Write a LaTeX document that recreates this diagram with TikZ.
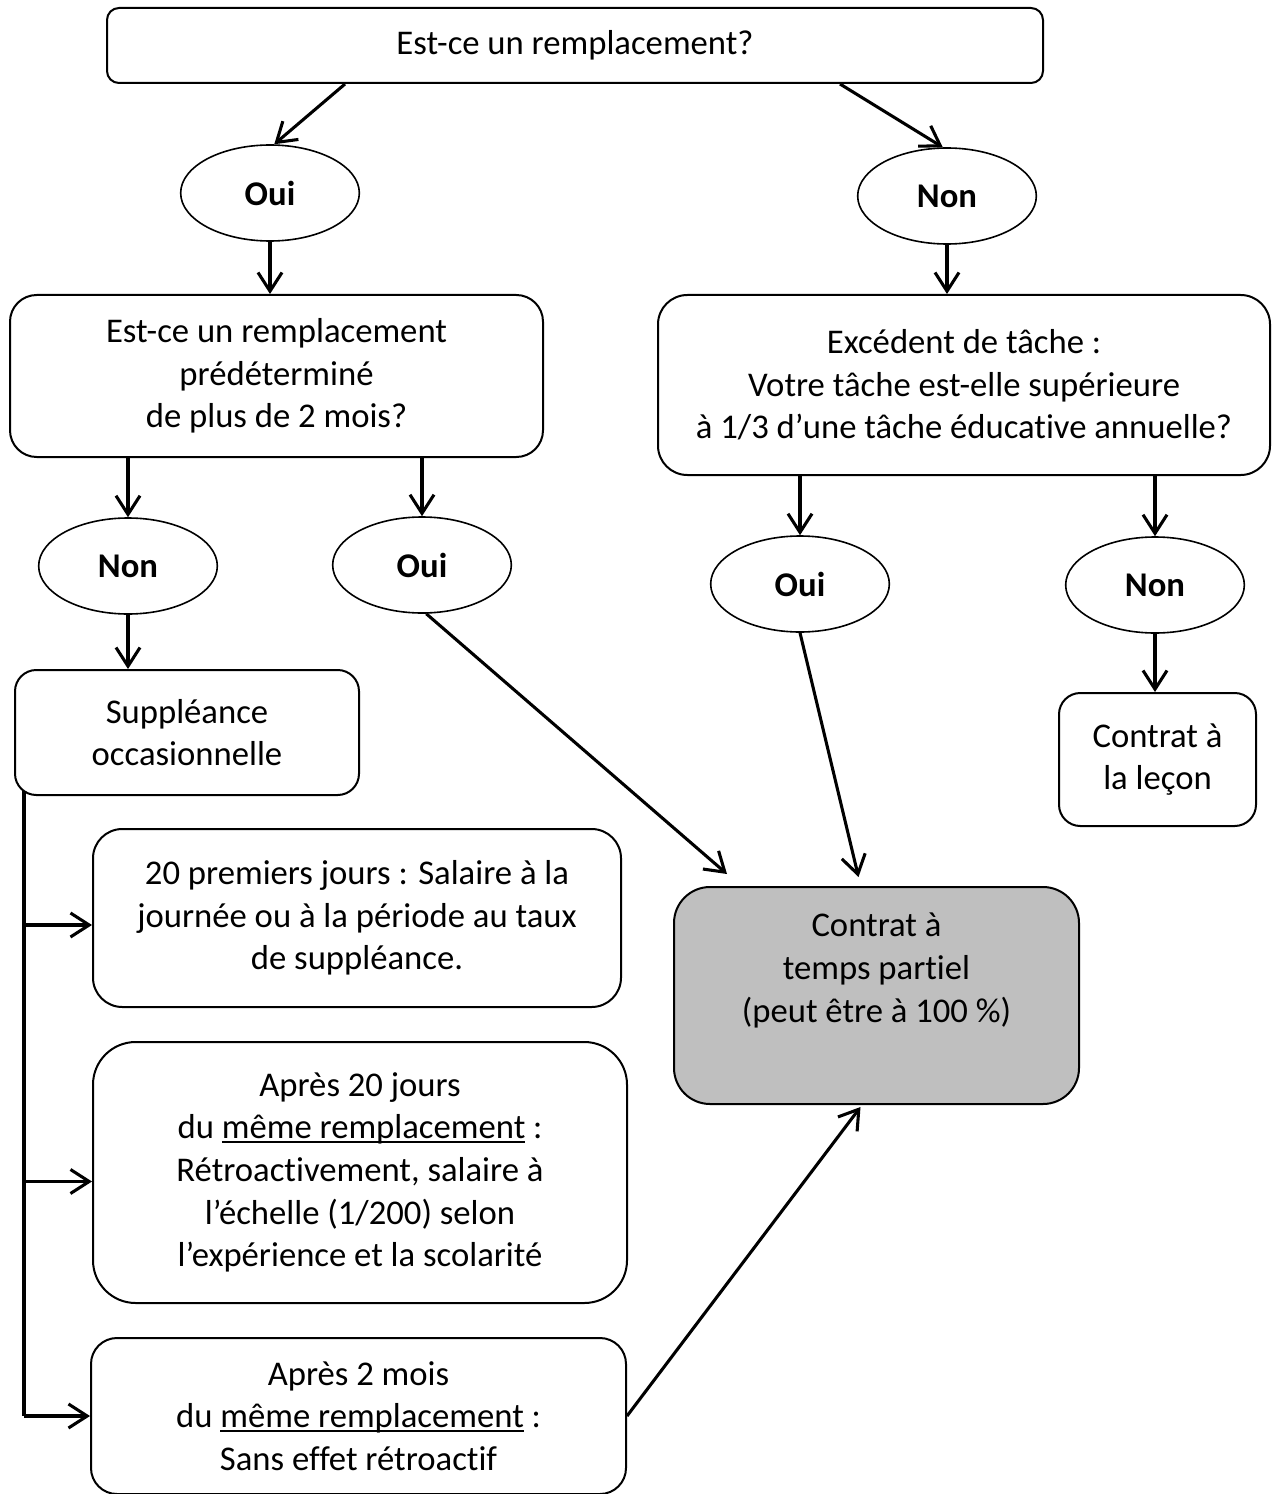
\documentclass[tikz,border=0pt]{standalone}
\usepackage{fontspec}
\setmainfont{Carlito}[Ligatures=NoCommon]
\usetikzlibrary{shapes.geometric,arrows.meta,calc}
\definecolor{gris}{RGB}{191,191,191}
\newsavebox\soulbox
\newcommand\souligne[1]{\sbox\soulbox{#1}\rlap{\rule[-3pt]{\wd\soulbox}{1.5pt}}\usebox\soulbox}

\begin{document}
\begin{tikzpicture}[x=0.75pt,y=0.75pt,yscale=-1,xscale=1,
  boite/.style={draw,line width=1.5pt,rounded corners=#1,align=center,inner sep=0pt,font=\fontsize{26}{32}\selectfont},
  bulle/.style={draw,ellipse,line width=1.2pt,minimum width=134pt,minimum height=72pt,inner sep=0pt,font=\fontsize{26}{32}\selectfont\bfseries},
  fleche/.style={line width=2.3pt,-{Straight Barb[length=14pt,width=18pt]}},
  ligne/.style={line width=2.3pt}]
\useasboundingbox (0,0) rectangle (1277,1494);

% Rounded Rect: question du haut
\node[boite=9pt,minimum width=702pt,minimum height=56.25pt] (top) at (575,45.5) {Est-ce un remplacement?};

% Ellipses
\node[bulle] (oui1) at (270,193) {Oui};
\node[bulle] (non1) at (947,196) {Non};

% Rounded Rect: deux questions
\node[boite=20pt,minimum width=399.75pt,minimum height=121.5pt] (pred) at (276.5,376) {Est-ce un remplacement\\prédéterminé\\de plus de 2 mois?};
\node[boite=22pt,minimum width=459pt,minimum height=135pt] (exc) at (964,385) {Excédent de tâche :\\Votre tâche est-elle supérieure\\à 1/3 d’une tâche éducative annuelle?};

% Ellipses
\node[bulle] (non2) at (128,566) {Non};
\node[bulle] (oui2) at (422,565) {Oui};
\node[bulle] (oui3) at (800,584) {Oui};
\node[bulle] (non3) at (1155,585) {Non};

% Rounded Rect: contrats
\node[boite=16pt,minimum width=258pt,minimum height=93.75pt] (supp) at (187,732.5) {Suppléance\\occasionnelle};
\node[boite=16pt,minimum width=147.75pt,minimum height=99.75pt] (lecon) at (1157.5,759.5) {Contrat à\\la leçon};
\node[boite=27pt,fill=gris,minimum width=303.75pt,minimum height=162.75pt] (part) at (876.5,995.5) {Contrat à\\temps partiel\\(peut être à 100~\%)\\\strut};

% Rounded Rect: suppleance
\node[boite=22pt,minimum width=396pt,minimum height=133.5pt] (p20) at (357,918) {20 premiers jours : Salaire à la\\journée ou à la période au taux\\de suppléance.};
\node[boite=32pt,minimum width=400.5pt,minimum height=195.75pt] (a20) at (360,1172.5) {Après 20 jours\\du \souligne{même remplacement} :\\Rétroactivement, salaire à\\l’échelle (1/200) selon\\l’expérience et la scolarité};
\node[boite=19.5pt,minimum width=401.25pt,minimum height=117pt] (a2) at (358.5,1416) {Après 2 mois\\du \souligne{même remplacement} :\\Sans effet rétroactif};

% Arrows
\draw[fleche] (top.south -| 345,0) -- (oui1.85);
\draw[fleche] (top.south -| 840,0) -- (non1.95);
\draw[fleche] (oui1.south) -- (oui1.south |- pred.north);
\draw[fleche] (non1.south) -- (non1.south |- exc.north);
\draw[fleche] (pred.south -| non2.north) -- (non2.north);
\draw[fleche] (pred.south -| oui2.north) -- (oui2.north);
\draw[fleche] (exc.south -| oui3.north) -- (oui3.north);
\draw[fleche] (exc.south -| non3.north) -- (non3.north);
\draw[fleche] (non2.south) -- (non2.south |- supp.north);
\draw[fleche] (non3.south) -- (non3.south |- lecon.north);
\draw[fleche] (oui2.-85) -- ($(part.north west)+(54,-12)$);
\draw[fleche] (oui3.south) -- ($(part.north)+(-18,-9)$);
\draw[fleche] (a2.east) -- ($(part.south)+(-16,2)$);

% Tronc suppleance
\coordinate (tronc) at ($(supp.south west)+(10,-5)$);
\draw[ligne] (tronc) -- (tronc |- a2.west);
\draw[fleche] ($(tronc |- p20.west)+(0,7)$) -- ($(p20.west)+(0,7)$);
\draw[fleche] ($(tronc |- a20.west)+(0,9)$) -- ($(a20.west)+(0,9)$);
\draw[fleche] (tronc |- a2.west) -- (a2.west);

\end{tikzpicture}
\end{document}
